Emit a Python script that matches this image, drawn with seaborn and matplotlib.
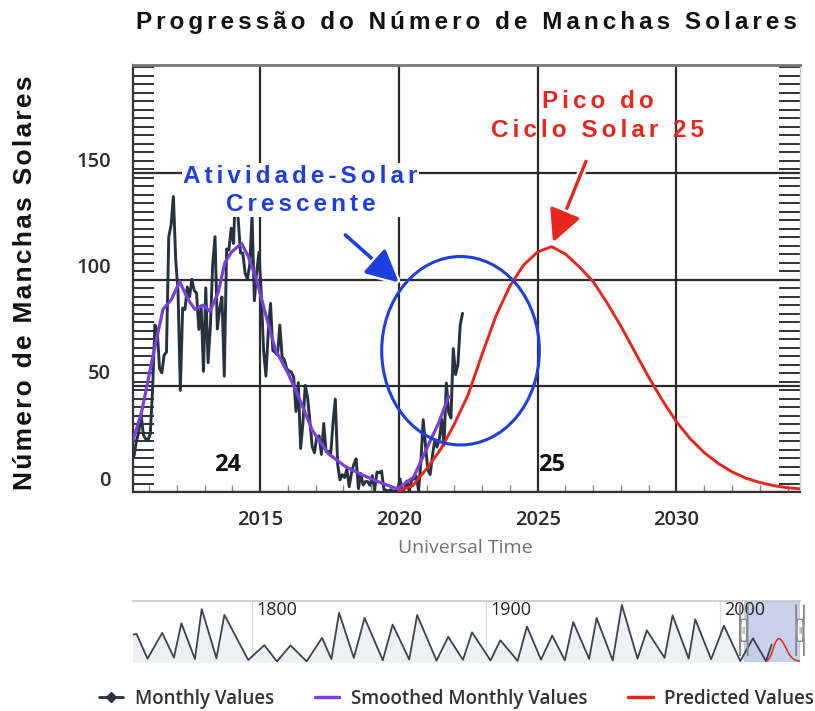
import numpy as np
import pandas as pd
import matplotlib
matplotlib.use("Agg")
import matplotlib.pyplot as plt
import matplotlib.transforms as mtransforms
import matplotlib.patheffects as pe
from matplotlib.patches import Ellipse, FancyBboxPatch
from matplotlib.lines import Line2D
from matplotlib.ticker import MultipleLocator
import seaborn as sns

# monthly sunspot numbers, Jun 2010 .. Apr 2022
monthly_start_year = 2010
monthly_start_month = 6
monthly_values = [
    17.0, 24.0, 28.0, 37.0, 27.0, 25.0, 24.5,
    27.3, 48.3, 78.6, 76.1, 58.2, 56.1, 64.5, 65.8, 120.1, 125.7, 139.1, 109.3,
    94.4, 47.8, 86.6, 85.9, 96.5, 92.0, 100.1, 94.8, 93.7, 76.5, 87.6, 56.8,
    96.1, 60.9, 78.3, 107.3, 120.2, 76.7, 86.2, 91.8, 54.5, 114.4, 113.9, 124.2,
    117.0, 146.1, 128.7, 112.5, 112.5, 102.9, 100.2, 106.9, 130.0, 90.0, 103.6, 112.9,
    93.0, 66.7, 54.5, 75.3, 88.8, 66.5, 65.8, 64.4, 78.6, 63.6, 62.2, 58.0,
    57.0, 56.4, 54.1, 37.9, 51.5, 20.5, 32.4, 50.2, 44.6, 33.4, 21.4, 18.5,
    26.1, 26.4, 17.7, 32.3, 18.9, 19.2, 17.8, 32.6, 43.7, 13.2, 5.7, 8.2,
    6.8, 10.7, 2.5, 8.9, 13.1, 15.6, 1.6, 8.7, 3.3, 4.9, 4.9, 3.1,
    7.7, 0.8, 9.4, 9.1, 9.9, 1.2, 0.9, 0.5, 1.1, 0.4, 0.5, 1.5,
    6.2, 0.2, 1.5, 5.2, 0.2, 5.8, 6.1, 7.5, 0.6, 14.4, 34.0, 21.8,
    10.4, 8.2, 17.2, 24.5, 21.2, 25.0, 34.3, 22.0, 51.3, 37.4, 34.8, 67.5,
    55.3, 59.9, 78.5, 84.1,
]

# smoothed monthly values
smooth_years = [2010.42, 2010.72, 2011.14, 2011.5, 2011.8, 2012.1, 2012.41, 2012.65,
                2012.95, 2013.19, 2013.49, 2013.73, 2013.97, 2014.33, 2014.57, 2014.87,
                2015.19, 2015.55, 2016.0, 2016.38, 2016.88, 2017.46, 2018.07, 2018.69,
                2019.41, 2019.95, 2020.53, 2021.02, 2021.43, 2021.79]
smooth_values = [24.5, 37, 64, 86, 90.5, 99, 90.5, 86, 88, 85, 94, 108, 113, 117, 111, 100,
                 84, 67, 56, 45, 29, 18, 12, 8, 4, 1.5, 7, 21, 32.5, 45]

# predicted values, cycle 25
pred_years = [2020.0, 2020.5, 2021.0, 2021.5, 2022.0, 2022.5, 2023.0, 2023.5, 2024.0,
              2024.5, 2025.0, 2025.5, 2026.0, 2026.5, 2027.0, 2027.5, 2028.0, 2028.5,
              2029.0, 2029.5, 2030.0, 2030.5, 2031.0, 2031.5, 2032.0, 2032.5, 2033.0,
              2033.5, 2034.0, 2034.45]
pred_values = [0.5, 3, 11, 20, 32, 46, 65, 83, 97, 107, 113, 115.5, 112, 106, 99, 89, 78,
               66, 54, 43, 33, 25, 18.5, 13.5, 9.5, 6.5, 4.5, 3, 2, 1.5]

# navigator: cycle minima / maxima since 1749
nav_years = [1749, 1750.5, 1755.2, 1761.5, 1766.5, 1769.7, 1775.5, 1778.4, 1784.7, 1788.1,
             1798.3, 1805.2, 1810.6, 1816.4, 1823.3, 1829.9, 1833.9, 1837.2, 1843.5, 1848.1,
             1855.9, 1860.1, 1867.2, 1870.6, 1878.9, 1883.9, 1890.2, 1894.1, 1902.0, 1906.2,
             1913.6, 1917.6, 1923.6, 1928.4, 1933.8, 1937.4, 1944.2, 1947.4, 1954.3, 1958.2,
             1964.9, 1968.9, 1976.5, 1979.9, 1986.8, 1989.6, 1996.4, 2001.9, 2008.9, 2014.3,
             2019.9, 2022.3]
nav_values = [135, 139, 14, 144, 19, 193, 12, 264, 16, 235,
              7, 82, 0, 81, 0.2, 119, 12, 245, 18, 220,
              6, 186, 10, 234, 4, 124, 8, 147, 5, 107,
              3, 176, 9, 130, 6, 199, 13, 219, 5, 285,
              14, 157, 18, 233, 14, 213, 11, 180, 2, 116,
              2, 85]

x_ticks = [2015, 2020, 2025, 2030]
y_ticks = [0, 50, 100, 150]
nav_ticks = [1800, 1900, 2000]

title = "Progressão do Número de Manchas Solares"
ylabel = "Número de Manchas Solares"

c_month = "#26323f"
c_smooth = "#7b3fe0"
c_pred = "#e8261c"
c_blue = "#1d3fe0"
c_grid = "#2a2a2a"

sns.set_style("white")
plt.rcParams["font.family"] = ["Liberation Sans", "DejaVu Sans"]
ui_font = ["Open Sans", "DejaVu Sans"]


def spaced(text, sep="\u200a"):
    return "\n".join(sep.join(line) for line in text.split("\n"))


month_idx = np.arange(len(monthly_values))
monthly = pd.DataFrame({
    "year": monthly_start_year + (monthly_start_month - 1 + month_idx + 0.5) / 12,
    "value": monthly_values,
})

fig = plt.figure(figsize=(8.15, 7.11), dpi=100)
ax = fig.add_axes([0.1632, 0.308, 0.8184, 0.6006])

sns.lineplot(data=monthly, x="year", y="value", ax=ax, color=c_month, lw=2.1, zorder=3)
sns.lineplot(x=smooth_years, y=smooth_values, ax=ax, color=c_smooth, lw=2.3, zorder=4)
sns.lineplot(x=pred_years, y=pred_values, ax=ax, color=c_pred, lw=2.1, zorder=3.5)

ax.set_xlim(2010.42, 2034.45)
ax.set_ylim(0, 201)
ax.set_xticks(x_ticks)
ax.set_yticks(y_ticks)
ax.set_xlabel("")
ax.set_ylabel("")
ax.xaxis.set_minor_locator(MultipleLocator(1))
ax.yaxis.set_minor_locator(MultipleLocator(4))
ax.grid(True, which="major", color=c_grid, lw=1.6)
ax.set_axisbelow(True)
ax.tick_params(which="major", length=0)
ax.tick_params(axis="y", which="minor", left=True, right=True, direction="in",
               length=15, width=1.4, color="#333333")
ax.tick_params(axis="x", which="minor", bottom=True, direction="in",
               length=5, width=1, color="#888888")
ax.tick_params(axis="x", which="major", pad=13)
ax.tick_params(axis="y", which="major", pad=16)
for lab in ax.get_xticklabels() + ax.get_yticklabels():
    lab.set_family(ui_font)
    lab.set_weight("semibold")
    lab.set_fontsize(14.5)
    lab.set_color("#2b2b2b")
offset = mtransforms.ScaledTranslation(0, 10 / 72, fig.dpi_scale_trans)
for lab in ax.get_yticklabels():
    lab.set_transform(lab.get_transform() + offset)

for side in ["left", "bottom"]:
    ax.spines[side].set_color("#333333")
    ax.spines[side].set_linewidth(1.6)
ax.spines["top"].set_color("#777777")
ax.spines["top"].set_linewidth(2)
ax.spines["right"].set_color("#cccccc")
ax.spines["right"].set_linewidth(1)

# cycle numbers
ax.text(2013.81, 12.7, "24", ha="center", va="center", fontsize=17, weight="bold",
        family=ui_font, color="#111111")
ax.text(2025.0, 12.7, "25", ha="left", va="center", fontsize=17, weight="bold",
        family=ui_font, color="#111111")

# annotations
ax.add_patch(Ellipse((2022.22, 66.5), 5.68, 88.7, fill=False, ec=c_blue, lw=2.2, zorder=5))
white = [pe.withStroke(linewidth=6, foreground="white")]
ann = ax.annotate("", xy=(2020.0, 98.6), xytext=(2018.07, 121),
                  arrowprops=dict(arrowstyle="-|>,head_length=0.9,head_width=0.45",
                                  color=c_blue, lw=2.6, mutation_scale=22,
                                  shrinkA=0, shrinkB=0), zorder=6)
ann.arrow_patch.set_path_effects(white)
ax.text(2016.45, 142, spaced("Atividade-Solar\nCrescente", "\u2006"), ha="center",
        va="center", fontsize=17.5, weight="bold", color=c_blue, linespacing=1.3,
        bbox=dict(facecolor="white", edgecolor="none", pad=1), zorder=7)

ann = ax.annotate("", xy=(2025.55, 117.5), xytext=(2026.74, 155.7),
                  arrowprops=dict(arrowstyle="-|>,head_length=0.9,head_width=0.45",
                                  color=c_pred, lw=2.4, mutation_scale=22,
                                  shrinkA=0, shrinkB=0), zorder=6)
ann.arrow_patch.set_path_effects(white)
ax.text(2027.17, 177, spaced("Pico do\nCiclo Solar 25", "\u2006"), ha="center",
        va="center", fontsize=17.5, weight="bold", color=c_pred, linespacing=1.3, zorder=7)

# titles
fig.text(0.572, 0.969, spaced(title, "\u2006"), ha="center", va="center",
         fontsize=17.5, weight="bold", color="#111111")
fig.text(0.031, 0.603, spaced(ylabel), ha="center", va="center", rotation=90,
         fontsize=19, weight="bold", color="#111111")
fig.text(0.571, 0.229, "Universal Time", ha="center", va="center", fontsize=14,
         family=ui_font, color="#707070")

# navigator
ax2 = fig.add_axes([0.1632, 0.0689, 0.8184, 0.0858])
ax2.fill_between(nav_years, nav_values, color="#eef0f3", zorder=1)
sns.lineplot(x=nav_years, y=nav_values, ax=ax2, color="#3a4450", lw=1.3, zorder=3)
sns.lineplot(x=pred_years, y=pred_values, ax=ax2, color=c_pred, lw=1.1, zorder=3)
ax2.set_xlim(1749, 2034.45)
ax2.set_ylim(-3, 305)
ax2.set_xlabel("")
ax2.set_ylabel("")
ax2.set_xticks([])
ax2.set_yticks([])
for side in ["left", "right", "bottom"]:
    ax2.spines[side].set_visible(False)
ax2.spines["top"].set_color("#c8c8c8")
ax2.spines["top"].set_linewidth(1.2)
for yr in nav_ticks:
    ax2.axvline(yr, color="#dddddd", lw=1, zorder=0)
    ax2.text(yr + 2, 262, str(yr), ha="left", va="center", fontsize=13,
             family=ui_font, color="#222222")
ax2.axvspan(2010.42, 2034.45, color="#b5c3e3", alpha=0.75, zorder=2)
trans = mtransforms.blended_transform_factory(ax2.transData, ax2.transAxes)
for hx in [2010.42, 2034.45]:
    ax2.add_patch(FancyBboxPatch((hx - 1.6, 0.34), 3.2, 0.36, transform=trans,
                                 boxstyle="round,pad=0,rounding_size=0.6",
                                 fc="#f6f6f6", ec="#888888", lw=1, zorder=5,
                                 clip_on=False))
    ax2.text(hx, 0.52, "||", transform=trans, ha="center", va="center", fontsize=6,
             color="#777777", zorder=6, clip_on=False)

# legend
handles = [
    Line2D([], [], color=c_month, lw=2, marker="D", markersize=5),
    Line2D([], [], color=c_smooth, lw=2.5),
    Line2D([], [], color=c_pred, lw=2.5),
]
labels = ["Monthly Values", "Smoothed Monthly Values", "Predicted Values"]
leg = fig.legend(handles, labels, loc="center", bbox_to_anchor=(0.56, 0.017), ncol=3,
                 frameon=False, handlelength=1.3, columnspacing=2.2, handletextpad=0.6,
                 prop=dict(family=ui_font, weight="semibold", size=13.5))
for t in leg.get_texts():
    t.set_color("#333333")

fig.savefig("out.png", dpi=100)
